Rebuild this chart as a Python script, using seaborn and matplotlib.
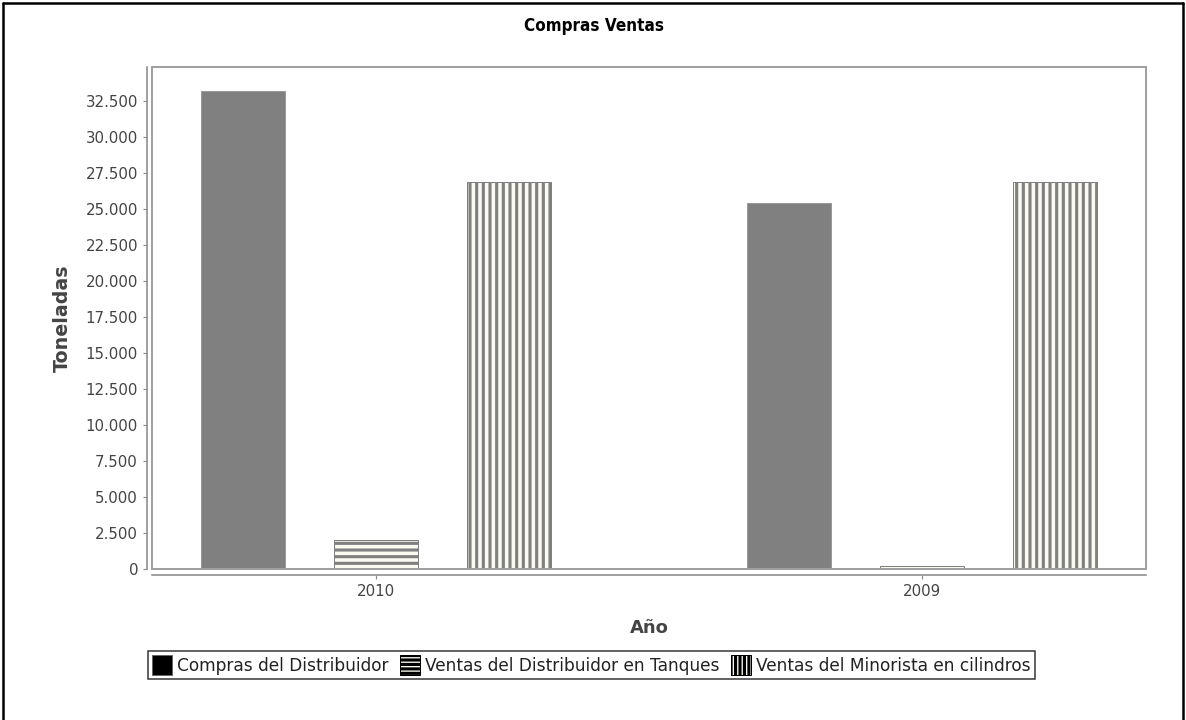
import matplotlib
matplotlib.use("Agg")
import matplotlib.pyplot as plt
from matplotlib.patches import Patch, Rectangle
from matplotlib.lines import Line2D
from matplotlib.ticker import FuncFormatter, MultipleLocator
import pandas as pd
import seaborn as sns

# --- data -------------------------------------------------------------
years = ["2010", "2009"]
series = [
    "Compras del Distribuidor",
    "Ventas del Distribuidor en Tanques",
    "Ventas del Minorista en cilindros",
]
compras = [33200, 25450]
tanques = [2050, 240]
minorista = [26900, 26900]

df = pd.DataFrame({
    "Año": years * 3,
    "Serie": [series[0]] * 2 + [series[1]] * 2 + [series[2]] * 2,
    "Toneladas": compras + tanques + minorista,
})

# --- style ------------------------------------------------------------
DPI = 80
W, H = 1186, 720
sns.set_theme(style="white")
plt.rcParams["font.family"] = ["DejaVu Sans"]
plt.rcParams["hatch.linewidth"] = 2.8

def px(v):
    return v * 72.0 / DPI

TXT = "#444444"
GRID = "#8c8c8c"
BAR = "#808080"
CREAM = "#fafaf0"

fig = plt.figure(figsize=(W / DPI, H / DPI), dpi=DPI)
ax = fig.add_axes([152 / W, 1 - 569.3 / H, (1146.3 - 152) / W, (569.3 - 67.3) / H])

sns.barplot(
    data=df, x="Año", y="Toneladas", hue="Serie",
    order=years, hue_order=series,
    palette=[BAR, CREAM, CREAM], saturation=1,
    width=0.731, gap=0.366, legend=False, ax=ax,
)

# solid bars, then striped bars
for bar in ax.containers[0]:
    bar.set_edgecolor("#9a9a9a")
    bar.set_linewidth(px(1))
for cont, hatch in ((ax.containers[1], "--"), (ax.containers[2], "||")):
    for bar in cont:
        bar.set_facecolor(CREAM)
        bar.set_edgecolor(BAR)
        bar.set_hatch(hatch)
        bar.set_linewidth(px(1))

ax.set_xlim(-0.4103, 1.4108)
ax.set_ylim(0, 34860)

# plot-area frame
for s in ("top", "right"):
    ax.spines[s].set_visible(False)
ax.add_patch(Rectangle((0, 0), 1, 1, transform=ax.transAxes, fill=False,
                       edgecolor="#a0a0a0", linewidth=px(2), zorder=5, clip_on=False))
ax.spines["left"].set_position(("outward", px(5)))
ax.spines["bottom"].set_position(("outward", px(5.4)))
for s in ("left", "bottom"):
    ax.spines[s].set_color(GRID)
    ax.spines[s].set_linewidth(px(1.6))

ax.yaxis.set_major_locator(MultipleLocator(2500))
ax.yaxis.set_major_formatter(FuncFormatter(lambda v, p: f"{int(round(v)):,}".replace(",", ".")))
ax.tick_params(axis="both", which="major", direction="out", length=px(4),
               width=px(1.2), color=GRID, labelcolor=TXT, labelsize=px(15),
               left=True, bottom=True)
ax.tick_params(axis="y", pad=px(5))
ax.tick_params(axis="x", pad=px(5))

ax.set_xlabel("Año", fontsize=px(18), fontweight="bold", color=TXT, labelpad=px(20))
ax.set_ylabel("Toneladas", fontsize=px(19), fontweight="bold", color=TXT, labelpad=px(14))

fig.text(594 / W, 1 - 26 / H, "Compras Ventas", ha="center", va="center",
         fontsize=px(17), fontweight="bold", fontstretch="condensed", color="black")

# legend
handles = [
    Patch(facecolor="black", edgecolor="#666666", linewidth=px(1)),
    Patch(facecolor=CREAM, edgecolor="black", hatch="---", linewidth=px(1)),
    Patch(facecolor=CREAM, edgecolor="black", hatch="|||", linewidth=px(1)),
]
leg = fig.legend(handles, series, loc="upper left",
                 bbox_to_anchor=(148 / W, 1 - 651 / H), ncol=3,
                 frameon=True, fancybox=False, shadow=False,
                 fontsize=px(17), handlelength=1.15, handleheight=1.4,
                 handletextpad=0.3, columnspacing=0.7, borderpad=0.25,
                 borderaxespad=0)
leg.get_frame().set_edgecolor("black")
leg.get_frame().set_linewidth(px(1.5))
for t in leg.get_texts():
    t.set_color("#222222")

# outer border of the chart panel
border = dict(color="black", lw=px(2.5), transform=fig.transFigure)
fig.add_artist(Line2D([3 / W, 3 / W], [0, 1 - 3 / H], **border))
fig.add_artist(Line2D([3 / W, 1183 / W], [1 - 3 / H, 1 - 3 / H], **border))
fig.add_artist(Line2D([1183 / W, 1183 / W], [1 - 3 / H, 0], **border))

fig.savefig("out.png", dpi=DPI)
